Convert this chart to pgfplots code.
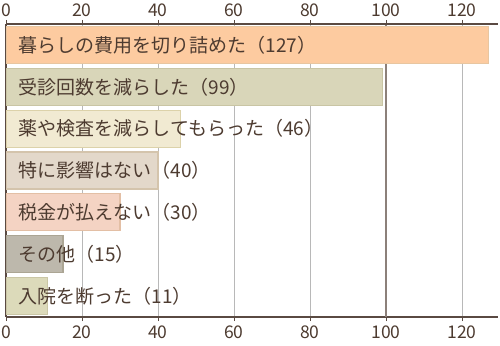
\documentclass[border=0pt]{standalone}
\usepackage{pgfplots}
\pgfplotsset{compat=1.18}
\usepackage{fontspec}
\setmainfont{Noto Sans CJK JP}
\definecolor{txt}{HTML}{4D3B30}
\definecolor{axc}{HTML}{5A4A42}
\definecolor{hund}{HTML}{8C807A}
\definecolor{f1}{HTML}{FDCBA0}\definecolor{d1}{HTML}{E8C6A0}
\definecolor{f2}{HTML}{D9D6B9}\definecolor{d2}{HTML}{C9C5A4}
\definecolor{f3}{HTML}{F1EAD2}\definecolor{d3}{HTML}{DCD2AA}
\definecolor{f4}{HTML}{E3D8CA}\definecolor{d4}{HTML}{D4C4AC}
\definecolor{f5}{HTML}{F4D3C3}\definecolor{d5}{HTML}{E3BFA5}
\definecolor{f6}{HTML}{BDB8AC}\definecolor{d6}{HTML}{ABA594}
\definecolor{f7}{HTML}{DCDABA}\definecolor{d7}{HTML}{CAC6A5}
\begin{document}
\begin{tikzpicture}
\pgfplotsset{
  common/.style={
    scale only axis, width=492bp, height=293bp,
    xmin=0, xmax=129.5, ymin=-0.5, ymax=6.5, y dir=reverse,
    xtick={0,20,...,120}, ytick=\empty,
    tick align=outside, major tick length=4bp,
    every tick/.style={axc, line width=0.8bp},
    /pgf/number format/assume math mode=true,
    xticklabel style={font=\fontsize{17.5bp}{19bp}\selectfont, text=txt},
  }
}
\begin{axis}[common, name=ax,
  axis x line*=bottom, axis y line*=left,
  axis line style={axc, line width=1.2bp},
  xmajorgrids, grid style={color=black!28, line width=0.8bp},
  extra x ticks={100}, extra x tick labels={},
  extra x tick style={grid style={color=hund, line width=2.4bp}},
  xticklabel style={yshift=-1bp},
]
\addplot[xbar, bar shift=0pt, bar width=37bp, fill=f1, draw=d1, line width=1.2bp] coordinates {(127,0)};
\addplot[xbar, bar shift=0pt, bar width=37bp, fill=f2, draw=d2, line width=1.2bp] coordinates {(99,1)};
\addplot[xbar, bar shift=0pt, bar width=37bp, fill=f3, draw=d3, line width=1.2bp] coordinates {(46,2)};
\addplot[xbar, bar shift=0pt, bar width=37bp, fill=f4, draw=d4, line width=1.2bp] coordinates {(40,3)};
\addplot[xbar, bar shift=0pt, bar width=37bp, fill=f5, draw=d5, line width=1.2bp] coordinates {(30,4)};
\addplot[xbar, bar shift=0pt, bar width=37bp, fill=f6, draw=d6, line width=1.2bp] coordinates {(15,5)};
\addplot[xbar, bar shift=0pt, bar width=37bp, fill=f7, draw=d7, line width=1.2bp] coordinates {(11,6)};
\begin{scope}[every node/.style={anchor=west, inner sep=0pt, text=txt, font=\fontsize{19bp}{21bp}\selectfont}]
\node at (axis cs:3.3,0) {暮らしの費用を切り詰めた（127）};
\node at (axis cs:3.3,1) {受診回数を減らした（99）};
\node at (axis cs:3.3,2) {薬や検査を減らしてもらった（46）};
\node at (axis cs:3.3,3) {特に影響はない（40）};
\node at (axis cs:3.3,4) {税金が払えない（30）};
\node at (axis cs:3.3,5) {その他（15）};
\node at (axis cs:3.3,6) {入院を断った（11）};
\end{scope}
\end{axis}
\begin{axis}[common,
  axis x line*=top, axis y line=none,
  xticklabel pos=upper,
  axis line style={axc, line width=1.2bp},
  xticklabel style={yshift=0bp},
]
\end{axis}
\pgfresetboundingbox
\path ([xshift=-6bp,yshift=-29bp]ax.south west) rectangle ([xshift=2bp,yshift=24bp]ax.north east);
\end{tikzpicture}
\end{document}
